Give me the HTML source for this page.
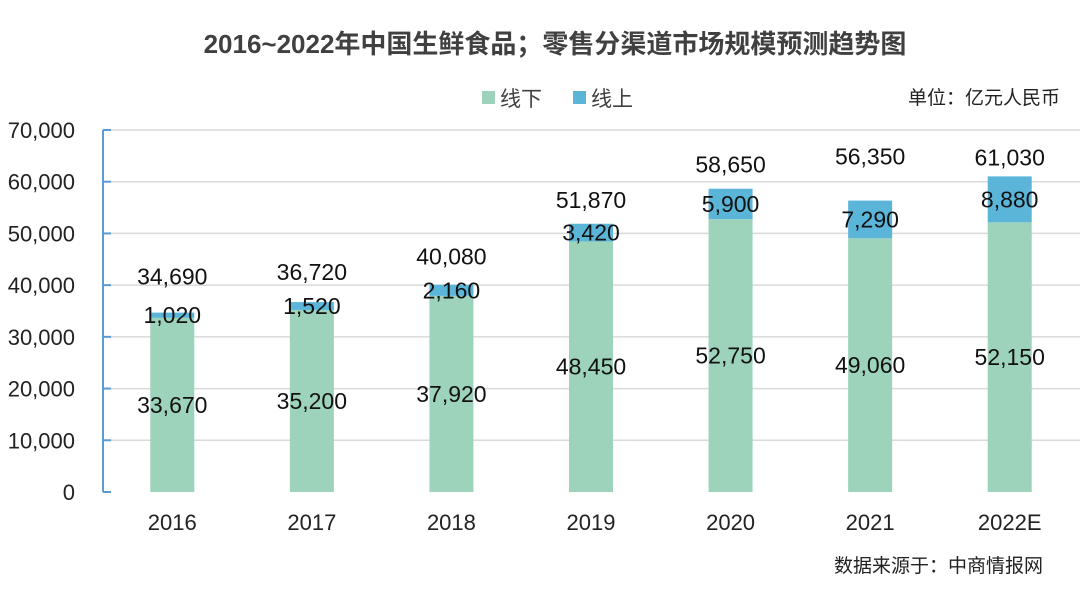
<!DOCTYPE html>
<html><head><meta charset="utf-8"><style>
body{margin:0;background:#fff;width:1080px;height:603px;overflow:hidden;font-family:"Liberation Sans","Noto Sans CJK SC",sans-serif}
text{font-family:"Liberation Sans","Noto Sans CJK SC",sans-serif}
</style></head><body>
<svg id="c" width="1080" height="603">
<text x="555" y="53" text-anchor="middle" font-size="26" font-weight="bold" fill="#404040">2016~2022年中国生鲜食品；零售分渠道市场规模预测趋势图</text>
<g>
<rect x="482" y="91" width="13" height="13" fill="#9dd3bb"/>
<text x="500" y="106" font-size="21" fill="#404040">线下</text>
<rect x="573" y="91" width="13" height="13" fill="#5bb5d9"/>
<text x="591" y="106" font-size="21" fill="#404040">线上</text>
</g>
<text x="1060" y="104" text-anchor="end" font-size="19" fill="#222">单位：亿元人民币</text>
<text x="1043" y="572" text-anchor="end" font-size="19" fill="#222">数据来源于：中商情报网</text>
<g id="plot"></g>
</svg>
<script>
const categories=["2016","2017","2018","2019","2020","2021","2022E"];
const offline=[33670,35200,37920,48450,52750,49060,52150];
const online=[1020,1520,2160,3420,5900,7290,8880];
const totals=[34690,36720,40080,51870,58650,56350,61030];
const yTicks=[0,10000,20000,30000,40000,50000,60000,70000];
const totalLabelGap=[36,30,28,24,24,44,19];
const x0=103,x1=1080,yBase=492,yTop=130,yMax=70000;
const Y=v=>yBase-(v/yMax)*(yBase-yTop);
const step=(x1-x0)/categories.length;
const X=i=>x0+step*(i+0.5)-0.5;
const ns="http://www.w3.org/2000/svg";
const g=document.getElementById('plot');
function mk(t,a){const e=document.createElementNS(ns,t);for(const k in a)e.setAttribute(k,a[k]);g.appendChild(e);return e;}
const fmt=v=>v.toLocaleString('en-US');
yTicks.forEach(v=>{
 if(v>0){const l=mk('line',{x1:x0,x2:x1,y1:Y(v),y2:Y(v),stroke:'#d9d9d9','stroke-width':1.5});
 
 }
 const tk=mk('line',{x1:x0,x2:x0+8,y1:Y(v),y2:Y(v),stroke:'#5b9bd5','stroke-width':2});
 
 
 const t=mk('text',{x:75,y:Y(v)+8,'text-anchor':'end','font-size':22,fill:'#222'});
 t.textContent=fmt(v);
 
 
});
const ax=mk('line',{x1:x0,x2:x0,y1:yTop,y2:yBase,stroke:'#5b9bd5','stroke-width':2});


const bw=44;
categories.forEach((c,i)=>{
 const cx=X(i);
 const r1=mk('rect',{x:cx-bw/2,y:Y(offline[i]),width:bw,height:yBase-Y(offline[i]),fill:'#9dd3bb'});
 
 
 const top=offline[i]+online[i];
 const r2=mk('rect',{x:cx-bw/2,y:Y(top),width:bw,height:Y(offline[i])-Y(top),fill:'#5bb5d9'});
 
 
 const lbls=[[fmt(offline[i]),Y(offline[i]/2)+8,'label-offline-'],[fmt(online[i]),Y(offline[i]+online[i]/2)+8,'label-online-'],[fmt(totals[i]),Y(top)-totalLabelGap[i]+8,'label-total-']];
 lbls.forEach(L=>{const t=mk('text',{x:cx,y:L[1],'text-anchor':'middle','font-size':23,fill:'#111'});
  t.textContent=L[0];
  
  });
 const xl=mk('text',{x:cx,y:530,'text-anchor':'middle','font-size':22,fill:'#222'});
 xl.textContent=c;
 
 
});
</script>
</body></html>
